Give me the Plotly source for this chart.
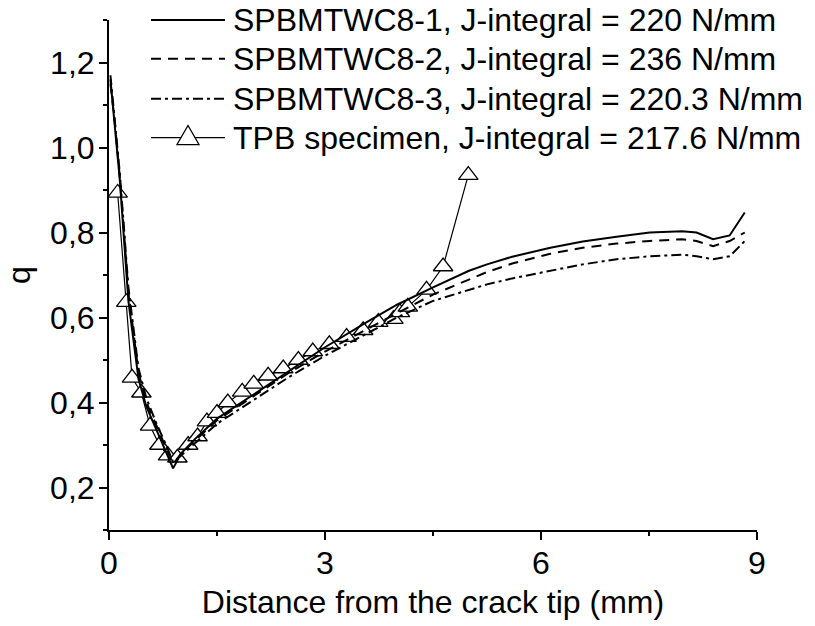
import plotly.graph_objects as go

# ---- data ----
spb_x = [0.02, 0.08, 0.15, 0.27, 0.41, 0.52, 0.66, 0.78, 0.89, 1.0, 1.2, 1.5, 2.0, 2.5, 3.0,
         3.58, 4.0, 4.5, 5.0, 5.25, 5.6, 6.13, 6.58, 7.05, 7.51, 7.96, 8.16, 8.39, 8.62, 8.83]
spb1_y = [1.16, 1.05, 0.924, 0.638, 0.455, 0.39, 0.335, 0.29, 0.245, 0.28, 0.315, 0.362, 0.418, 0.475, 0.53,
          0.589, 0.63, 0.671, 0.71, 0.725, 0.743, 0.764, 0.779, 0.79, 0.80, 0.803, 0.80, 0.784, 0.793, 0.847]
spb2_y = [1.15, 1.06, 0.93, 0.66, 0.47, 0.40, 0.345, 0.30, 0.255, 0.28, 0.312, 0.358, 0.414, 0.47, 0.52,
          0.573, 0.61, 0.654, 0.69, 0.707, 0.727, 0.75, 0.764, 0.774, 0.78, 0.784, 0.78, 0.768, 0.78, 0.80]
spb3_y = [1.17, 1.07, 0.94, 0.67, 0.48, 0.41, 0.35, 0.305, 0.26, 0.275, 0.305, 0.35, 0.405, 0.46, 0.51,
          0.562, 0.60, 0.639, 0.666, 0.678, 0.692, 0.709, 0.725, 0.737, 0.744, 0.748, 0.744, 0.737, 0.744, 0.78]

tpb_x = [0.12, 0.24, 0.32, 0.45, 0.57, 0.70, 0.82, 0.95, 1.10, 1.23, 1.36, 1.50, 1.65, 1.85, 2.01,
         2.21, 2.42, 2.63, 2.83, 3.06, 3.30, 3.53, 3.74, 3.95, 4.04, 4.15, 4.41, 4.64, 4.99]
tpb_y = [0.893, 0.636, 0.458, 0.423, 0.345, 0.30, 0.275, 0.27, 0.30, 0.32, 0.355, 0.375, 0.40, 0.425, 0.444,
         0.463, 0.48, 0.50, 0.52, 0.537, 0.554, 0.57, 0.589, 0.596, 0.612, 0.625, 0.665, 0.72, 0.935]

legend_labels = [
    "SPBMTWC8-1, J-integral = 220 N/mm",
    "SPBMTWC8-2, J-integral = 236 N/mm",
    "SPBMTWC8-3, J-integral = 220.3 N/mm",
    "TPB specimen, J-integral = 217.6 N/mm",
]
x_title = "Distance from the crack tip (mm)"
y_title = "q"

FONT = "Liberation Sans, Arial, sans-serif"
FS = 32
DASH = "10px,7px"
DASHDOT = "10px,4px,3px,4px"

fig = go.Figure()
fig.add_trace(go.Scatter(x=tpb_x, y=tpb_y, mode="lines+markers",
                         line=dict(color="black", width=1.2),
                         marker=dict(symbol="triangle-up", size=17, color="white",
                                     line=dict(color="black", width=1.3)),
                         name=legend_labels[3], showlegend=False))
fig.add_trace(go.Scatter(x=spb_x, y=spb1_y, mode="lines", line=dict(color="black", width=2),
                         name=legend_labels[0], showlegend=False))
fig.add_trace(go.Scatter(x=spb_x, y=spb2_y, mode="lines", line=dict(color="black", width=2, dash=DASH),
                         name=legend_labels[1], showlegend=False))
fig.add_trace(go.Scatter(x=spb_x, y=spb3_y, mode="lines", line=dict(color="black", width=2, dash=DASHDOT),
                         name=legend_labels[2], showlegend=False))

# ---- manual legend (layout decoration) ----
W, H, L, T = 648, 512, 109, 20
def px2paper(px, py):
    return (px - L) / W, (T + H - py) / H

rows_py = [20, 59, 99, 138]
dashes = ["solid", DASH, DASHDOT, "solid"]
widths = [2, 2, 2, 1.2]
for lab, py, d, w in zip(legend_labels, rows_py, dashes, widths):
    x0, y0 = px2paper(151, py)
    x1, _ = px2paper(225, py)
    fig.add_shape(type="line", xref="paper", yref="paper", x0=x0, x1=x1, y0=y0, y1=y0,
                  line=dict(color="black", width=w, dash=d))
    xt, _ = px2paper(231, py)
    fig.add_annotation(xref="paper", yref="paper", x=xt, y=y0, text=lab, showarrow=False,
                       xanchor="left", yanchor="middle", font=dict(family=FONT, size=FS, color="black"))
xa, ya = px2paper(188, 138)
fig.add_shape(type="path", xref="paper", yref="paper", xsizemode="pixel", ysizemode="pixel",
              xanchor=xa, yanchor=ya, path="M-11,-7 L11,-7 L0,12 Z",
              fillcolor="white", line=dict(color="black", width=1.3))

axis_common = dict(showline=True, linecolor="black", linewidth=2, ticks="outside",
                   tickcolor="black", tickwidth=2, ticklen=8, showgrid=False, zeroline=False,
                   mirror=False, tickfont=dict(family=FONT, size=FS, color="black"))
fig.update_xaxes(range=[0, 9], tick0=0, dtick=3, ticklabelstandoff=-4,
                 minor=dict(ticks="outside", ticklen=4, dtick=1.5, tick0=0, tickcolor="black", tickwidth=2),
                 title=dict(text=x_title, font=dict(family=FONT, size=FS, color="black"), standoff=10),
                 **axis_common)
fig.update_yaxes(range=[0.1, 1.3], tick0=0, dtick=0.2, tickformat=".1f", ticklabelstandoff=-2,
                 minor=dict(ticks="outside", ticklen=4, dtick=0.1, tick0=0, tickcolor="black", tickwidth=2),
                 title=dict(text=y_title, font=dict(family=FONT, size=FS, color="black"), standoff=10),
                 **axis_common)
fig.update_layout(width=815, height=626, margin=dict(l=L, r=815 - L - W, t=T, b=626 - T - H),
                  plot_bgcolor="white", paper_bgcolor="white", separators=",.",
                  font=dict(family=FONT, size=FS, color="black"))
fig.write_html("out.html")
